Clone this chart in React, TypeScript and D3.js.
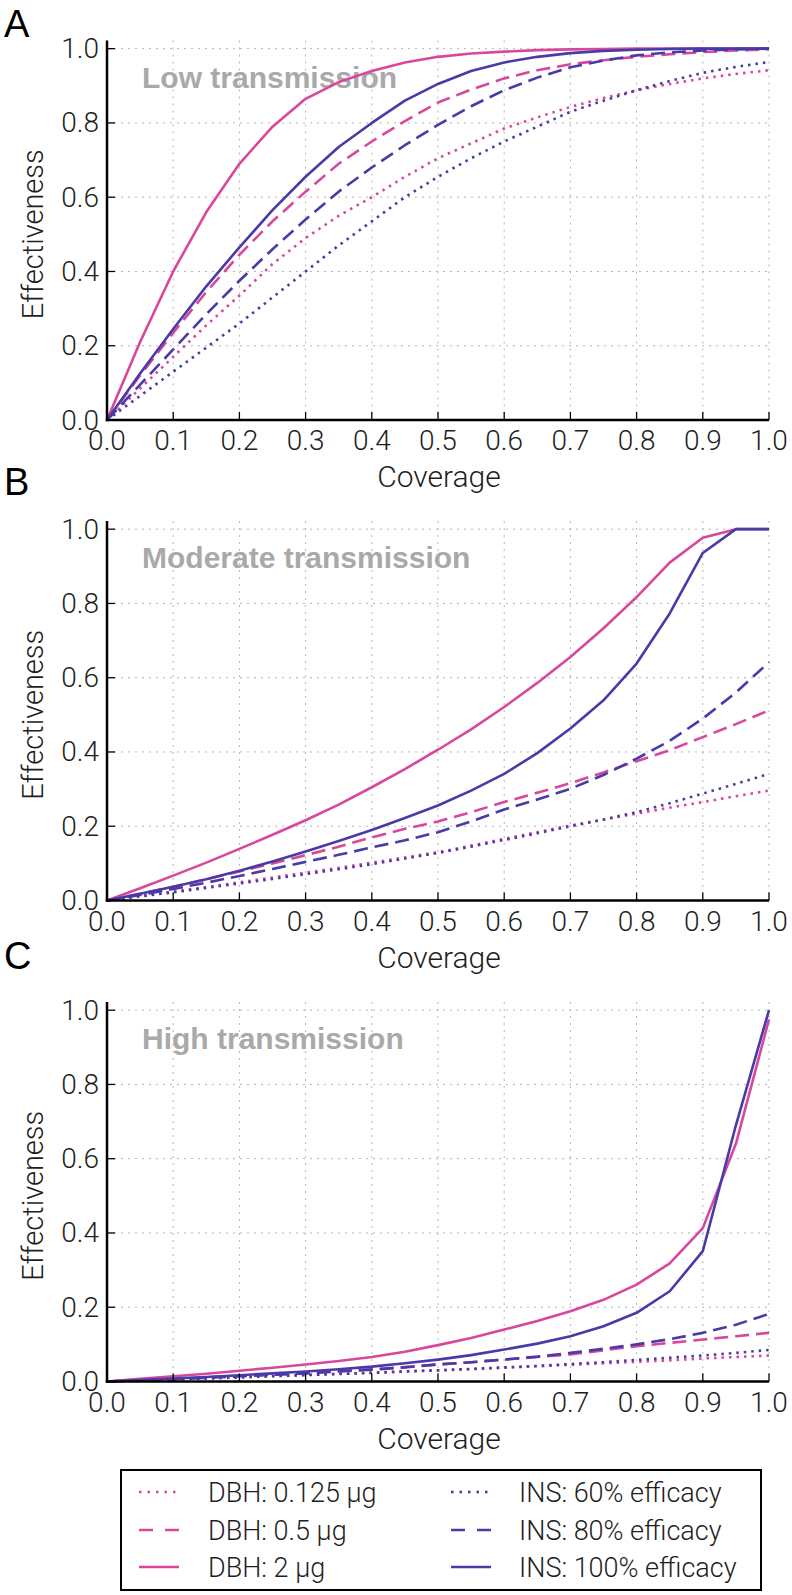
import React from "react";
import * as d3 from "d3";

const coverage = d3.range(21).map((i) => i * 0.05);

// Panel A: Low transmission
const lowDbh0125 = [0, 0.085, 0.17, 0.255, 0.335, 0.42, 0.49, 0.55, 0.6, 0.655, 0.705, 0.745, 0.785, 0.815, 0.843, 0.867, 0.888, 0.905, 0.92, 0.932, 0.942];
const lowDbh05 = [0, 0.12, 0.235, 0.345, 0.445, 0.535, 0.615, 0.69, 0.75, 0.805, 0.855, 0.89, 0.92, 0.942, 0.958, 0.969, 0.978, 0.985, 0.991, 0.995, 0.998];
const lowDbh2 = [0, 0.21, 0.4, 0.56, 0.69, 0.79, 0.865, 0.91, 0.94, 0.963, 0.978, 0.987, 0.992, 0.996, 0.998, 0.999, 1, 1, 1, 1, 1];
const lowIns60 = [0, 0.065, 0.13, 0.195, 0.26, 0.33, 0.4, 0.47, 0.535, 0.6, 0.655, 0.705, 0.75, 0.79, 0.83, 0.86, 0.888, 0.913, 0.935, 0.951, 0.964];
const lowIns80 = [0, 0.095, 0.19, 0.285, 0.375, 0.46, 0.54, 0.615, 0.68, 0.74, 0.795, 0.845, 0.888, 0.922, 0.95, 0.968, 0.982, 0.99, 0.995, 0.998, 1];
const lowIns100 = [0, 0.125, 0.245, 0.36, 0.465, 0.565, 0.655, 0.735, 0.8, 0.86, 0.905, 0.94, 0.963, 0.978, 0.988, 0.994, 0.997, 0.999, 1, 1, 1];

// Panel B: Moderate transmission
const modDbh0125 = [0, 0.012, 0.024, 0.036, 0.049, 0.062, 0.075, 0.088, 0.102, 0.116, 0.13, 0.148, 0.166, 0.184, 0.202, 0.218, 0.234, 0.25, 0.265, 0.281, 0.296];
const modDbh05 = [0, 0.018, 0.037, 0.057, 0.078, 0.1, 0.122, 0.145, 0.17, 0.193, 0.213, 0.238, 0.265, 0.29, 0.316, 0.345, 0.375, 0.405, 0.44, 0.475, 0.512];
const modDbh2 = [0, 0.033, 0.067, 0.102, 0.139, 0.177, 0.216, 0.258, 0.305, 0.354, 0.406, 0.461, 0.521, 0.586, 0.656, 0.733, 0.817, 0.91, 0.977, 1, 1];
const modIns60 = [0, 0.011, 0.022, 0.034, 0.046, 0.058, 0.071, 0.084, 0.098, 0.113, 0.128, 0.145, 0.163, 0.181, 0.2, 0.218, 0.238, 0.262, 0.288, 0.314, 0.341];
const modIns80 = [0, 0.015, 0.031, 0.048, 0.066, 0.085, 0.104, 0.123, 0.143, 0.162, 0.184, 0.213, 0.245, 0.272, 0.301, 0.338, 0.382, 0.43, 0.49, 0.56, 0.642];
const modIns100 = [0, 0.018, 0.037, 0.057, 0.08, 0.105, 0.132, 0.16, 0.19, 0.222, 0.256, 0.296, 0.341, 0.397, 0.463, 0.539, 0.638, 0.773, 0.936, 1, 1];

// Panel C: High transmission
const highDbh0125 = [0, 0.003, 0.006, 0.009, 0.012, 0.015, 0.018, 0.021, 0.024, 0.027, 0.03, 0.033, 0.037, 0.041, 0.045, 0.049, 0.053, 0.057, 0.062, 0.066, 0.07];
const highDbh05 = [0, 0.004, 0.007, 0.011, 0.015, 0.019, 0.023, 0.028, 0.033, 0.039, 0.046, 0.052, 0.059, 0.066, 0.073, 0.084, 0.095, 0.104, 0.113, 0.122, 0.131];
const highDbh2 = [0, 0.007, 0.014, 0.021, 0.029, 0.037, 0.046, 0.055, 0.066, 0.08, 0.098, 0.117, 0.14, 0.163, 0.189, 0.22, 0.261, 0.318, 0.413, 0.64, 0.975];
const highIns60 = [0, 0.002, 0.005, 0.008, 0.011, 0.014, 0.017, 0.02, 0.023, 0.027, 0.03, 0.034, 0.038, 0.042, 0.047, 0.052, 0.058, 0.064, 0.07, 0.077, 0.085];
const highIns80 = [0, 0.003, 0.006, 0.01, 0.014, 0.018, 0.022, 0.027, 0.032, 0.038, 0.046, 0.052, 0.059, 0.067, 0.077, 0.088, 0.1, 0.114, 0.131, 0.153, 0.182];
const highIns100 = [0, 0.004, 0.008, 0.012, 0.017, 0.022, 0.027, 0.033, 0.04, 0.049, 0.059, 0.071, 0.086, 0.102, 0.122, 0.149, 0.185, 0.243, 0.351, 0.69, 1];

const xTicks = [0, 0.1, 0.2, 0.3, 0.4, 0.5, 0.6, 0.7, 0.8, 0.9, 1.0];
const yTicks = [0, 0.2, 0.4, 0.6, 0.8, 1.0];

const seriesNames = ["DBH: 0.125 µg", "DBH: 0.5 µg", "DBH: 2 µg", "INS: 60% efficacy", "INS: 80% efficacy", "INS: 100% efficacy"];

const PINK = "#d8479b";
const BLUE = "#4a3aa8";
const styles = [
  { color: PINK, dash: "2.5,5", legendDash: "2.5,6" },
  { color: PINK, dash: "14,7", legendDash: "14,12" },
  { color: PINK, dash: null, legendDash: null },
  { color: BLUE, dash: "2.5,5", legendDash: "2.5,6" },
  { color: BLUE, dash: "14,7", legendDash: "14,12" },
  { color: BLUE, dash: null, legendDash: null },
];

const panels = [
  { letter: "A", title: "Low transmission", top: 40.5, letterY: 37, series: [lowDbh0125, lowDbh05, lowDbh2, lowIns60, lowIns80, lowIns100] },
  { letter: "B", title: "Moderate transmission", top: 521, letterY: 495, series: [modDbh0125, modDbh05, modDbh2, modIns60, modIns80, modIns100] },
  { letter: "C", title: "High transmission", top: 1002, letterY: 969, series: [highDbh0125, highDbh05, highDbh2, highIns60, highIns80, highIns100] },
];

const FONT = "'Liberation Sans', Arial, sans-serif";
const LIGHT = "Roboto, 'Liberation Sans', Arial, sans-serif";
const TEXT = "#1e1e1e";
const LEFT = 107;
const RIGHT = 769;
const PLOT_H = 379.5; // from top (y=1.022) to bottom (y=0)
const YMAX = 1.022;

function Panel({ p }: { p: (typeof panels)[number] }) {
  const x = d3.scaleLinear().domain([0, 1]).range([LEFT, RIGHT]);
  const y = d3.scaleLinear().domain([0, YMAX]).range([p.top + PLOT_H, p.top]);
  const bottom = p.top + PLOT_H;
  return (
    <g>
      <text x={4} y={p.letterY} fontSize={38} fontFamily={FONT} fill="#000">{p.letter}</text>
      {/* grid */}
      {xTicks.map((t) => (
        <line key={"gx" + t} x1={x(t)} x2={x(t)} y1={y(YMAX)} y2={bottom} stroke="#b5b5b5" strokeWidth={1} strokeDasharray="2,5" />
      ))}
      {yTicks.map((t) => (
        <line key={"gy" + t} x1={LEFT} x2={RIGHT} y1={y(t)} y2={y(t)} stroke="#b5b5b5" strokeWidth={1} strokeDasharray="2,5" />
      ))}
      <text x={142} y={p.top + 47} fontSize={30} fontWeight="bold" fontFamily={FONT} fill="#a9a9a9">{p.title}</text>
      {/* series */}
      {p.series.map((vals, i) => {
        const line = d3.line<number>().x((_, j) => x(coverage[j])).y((v) => y(v));
        return (
          <path key={i} d={line(vals) || ""} fill="none" stroke={styles[i].color} strokeWidth={2.6}
            strokeDasharray={styles[i].dash || undefined} strokeLinejoin="round" />
        );
      })}
      {/* axes */}
      <line x1={LEFT} x2={LEFT} y1={p.top} y2={bottom + 1.2} stroke="#000" strokeWidth={2.5} />
      <line x1={LEFT - 1.2} x2={RIGHT} y1={bottom} y2={bottom} stroke="#000" strokeWidth={2.5} />
      {xTicks.map((t) => (
        <g key={"tx" + t}>
          <line x1={x(t)} x2={x(t)} y1={bottom} y2={bottom - 8} stroke="#000" strokeWidth={1.3} />
          <text x={x(t)} y={bottom + 30} textAnchor="middle" fontSize={28} fontWeight={300} fontFamily={LIGHT} fill={TEXT}>{t.toFixed(1)}</text>
        </g>
      ))}
      {yTicks.map((t) => (
        <g key={"ty" + t}>
          <line x1={LEFT} x2={LEFT + 8} y1={y(t)} y2={y(t)} stroke="#000" strokeWidth={1.3} />
          <text x={99} y={y(t) + 9.5} textAnchor="end" fontSize={28} fontWeight={300} fontFamily={LIGHT} fill={TEXT}>{t.toFixed(1)}</text>
        </g>
      ))}
      <text x={(LEFT + RIGHT) / 2 + 1} y={bottom + 67} textAnchor="middle" fontSize={30} fontWeight={300} fontFamily={LIGHT} fill={TEXT}>Coverage</text>
      <text transform={`translate(43,${(p.top + 8 + bottom) / 2}) rotate(-90)`} textAnchor="middle" fontSize={29} fontWeight={300} fontFamily={LIGHT} fill={TEXT}>Effectiveness</text>
    </g>
  );
}

function Legend() {
  const rowY = [1492, 1530, 1567];
  const cols = [{ lx: 139, tx: 208 }, { lx: 451, tx: 519 }];
  return (
    <g>
      <rect x={121} y={1470} width={640} height={120} fill="#fff" stroke="#000" strokeWidth={2} />
      {seriesNames.map((name, i) => {
        const c = cols[Math.floor(i / 3)];
        const yy = rowY[i % 3];
        return (
          <g key={name}>
            <line x1={c.lx} x2={c.lx + 40} y1={yy} y2={yy} stroke={styles[i].color} strokeWidth={2.6}
              strokeDasharray={styles[i].legendDash || undefined} />
            <text x={c.tx} y={yy + 9.5} fontSize={27} fontWeight={300} fontFamily={LIGHT} fill={TEXT}>{name}</text>
          </g>
        );
      })}
    </g>
  );
}

export default function App() {
  return (
    <svg width={792} height={1595} style={{ position: "absolute", left: 0, top: 0, background: "#fff" }}>
      <rect width={792} height={1595} fill="#fff" />
      {panels.map((p) => (
        <Panel key={p.letter} p={p} />
      ))}
      <Legend />
    </svg>
  );
}
